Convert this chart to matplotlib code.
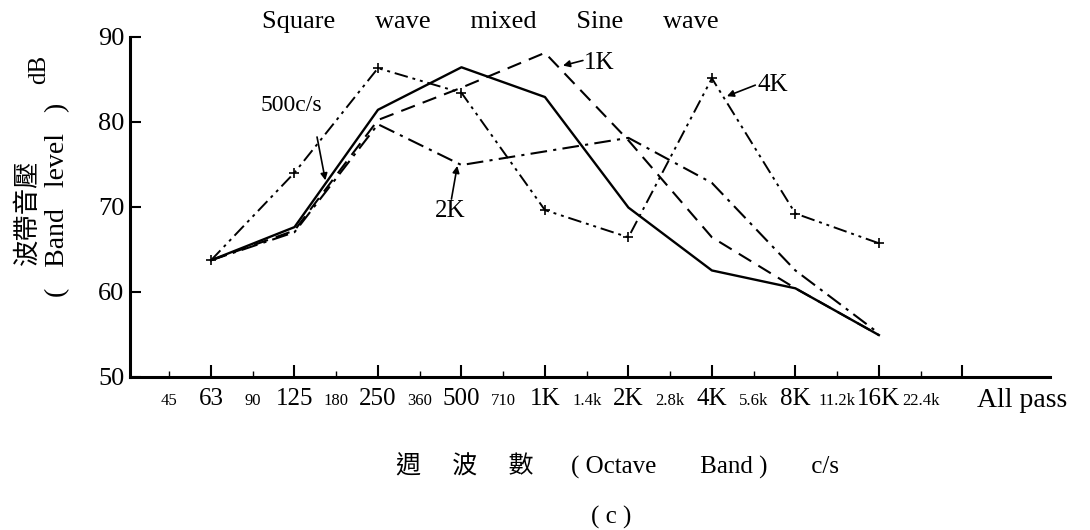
import matplotlib
matplotlib.use("Agg")
import matplotlib.pyplot as plt
import matplotlib.transforms as mtransforms
import numpy as np

plt.rcParams['font.family'] = ['Liberation Serif', 'Noto Sans CJK TC']

# octave bands, x position = band index (63 c/s = 0)
bands = ["63", "125", "250", "500", "1K", "2K", "4K", "8K", "16K"]
major_labels = bands + ["All pass"]
minor_labels = ["45", "90", "180", "360", "710", "1.4k", "2.8k", "5.6k", "11.2k", "22.4k"]

# band level (dB), square wave mixed with sine wave of each frequency
level_500 = [63.7, 67.6, 81.4, 86.4, 82.9, 69.9, 62.5, 60.4, 54.9]
level_1k = [63.7, 67.2, 80.2, 84.0, 88.1, 77.8, 66.4, 60.4, 54.9]
level_2k = [63.7, 67.0, 79.7, 74.9, 76.5, 78.1, 72.8, 62.5, 55.1]
level_4k = [63.7, 74.0, 86.3, 83.4, 69.6, 66.4, 85.1, 69.2, 65.7]

fig = plt.figure(figsize=(10.9, 5.3), dpi=100)
ax = fig.add_axes([0.1193, 0.2892, 0.844, 0.6416])

x = np.arange(len(bands))
ax.plot(x, level_500, color='black', lw=1.7, ls='-')
ax.plot(x, level_1k, color='black', lw=1.5, ls=(0, (7, 4)))
ax.plot(x, level_2k, color='black', lw=1.5, ls=(0, (8, 3, 1.5, 3)))
ax.plot(x, level_4k, color='black', lw=1.4, ls=(0, (7, 2.5, 1.5, 2.5, 1.5, 2.5)),
        marker='+', ms=7, mew=1.2)

ax.set_xlim(-0.97, 10.05)
ax.set_ylim(50, 90)
for s in ['top', 'right']:
    ax.spines[s].set_visible(False)
for s in ['left', 'bottom']:
    ax.spines[s].set_linewidth(2.2)

ax.set_yticks([50, 60, 70, 80, 90])
ax.tick_params(axis='y', direction='in', length=8, width=1.5, pad=4, labelsize=19)
ax.tick_params(axis='x', which='major', direction='in', length=9, width=1.5, pad=8, labelsize=18)
ax.tick_params(axis='x', which='minor', direction='in', length=4, width=1, pad=12, labelsize=12)
ax.set_xticks(np.arange(len(major_labels)))
ax.set_xticklabels(major_labels)
ax.set_xticks(np.arange(len(minor_labels)) - 0.5, minor=True)
ax.set_xticklabels(minor_labels, minor=True)
lab = ax.get_xticklabels()[-1]
lab.set_ha('left')
lab.set_fontsize(20)
lab.set_transform(lab.get_transform() + mtransforms.ScaledTranslation(0.15, 0, fig.dpi_scale_trans))

# curve labels
ax.text(0.96, 81.85, "500c/s", ha='center', va='center', fontsize=17)
ax.annotate('', xy=(1.37, 73.1), xytext=(1.27, 78.2),
            arrowprops=dict(arrowstyle='-|>', color='black', lw=1.2, shrinkA=0, shrinkB=0, mutation_scale=10))
ax.text(2.87, 69.5, "2K", ha='center', va='center', fontsize=18)
ax.annotate('', xy=(2.95, 74.8), xytext=(2.88, 70.9),
            arrowprops=dict(arrowstyle='-|>', color='black', lw=1.2, shrinkA=0, shrinkB=0, mutation_scale=10))
ax.text(4.647, 86.9, "1K", ha='center', va='center', fontsize=18)
ax.annotate('', xy=(4.216, 86.6), xytext=(4.455, 87.2),
            arrowprops=dict(arrowstyle='-|>', color='black', lw=1.2, shrinkA=0, shrinkB=0, mutation_scale=10))
ax.text(6.73, 84.3, "4K", ha='center', va='center', fontsize=18)
ax.annotate('', xy=(6.18, 83.0), xytext=(6.52, 84.3),
            arrowprops=dict(arrowstyle='-|>', color='black', lw=1.2, shrinkA=0, shrinkB=0, mutation_scale=10))

fig.text(490 / 1090, 1 - 22 / 530, "Square      wave      mixed      Sine      wave",
         ha='center', va='center', fontsize=19)
fig.text(27 / 1090, 1 - 212 / 530, "波帶音壓", rotation=90, ha='center', va='center',
         fontsize=19, family=['Noto Sans CJK TC'])
fig.text(58 / 1090, 1 - 200 / 530, "(   Band   level   )", rotation=90, ha='center', va='center',
         fontsize=20)
fig.text(39 / 1090, 1 - 69 / 530, "dB", rotation=90, ha='center', va='center', fontsize=18)
fig.text(617 / 1090, 1 - 466 / 530, "週     波     數      ( Octave       Band )       c/s",
         ha='center', va='center', fontsize=18)
fig.text(611 / 1090, 1 - 517 / 530, "( c )", ha='center', va='center', fontsize=18)

fig.savefig("out.png", dpi=100)
